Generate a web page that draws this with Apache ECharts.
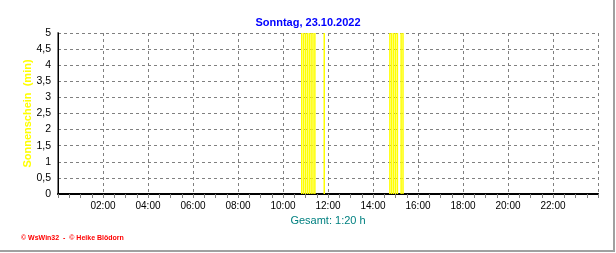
<!DOCTYPE html>
<html>
<head>
<meta charset="utf-8">
<script src="https://cdn.jsdelivr.net/npm/echarts@6/dist/echarts.min.js"></script>
<style>
html,body{margin:0;padding:0;background:#fff;}
#c{position:absolute;left:0;top:0;width:616px;height:253px;}
#frame{position:absolute;left:0;top:0;width:615px;height:252px;box-sizing:border-box;border-right:2px solid #a0a0a0;border-bottom:2px solid #a0a0a0;pointer-events:none;}
</style>
</head>
<body>
<div id="c"></div>
<div id="frame"></div>
<script>
// Data (5-minute intervals, minutes of sunshine)
const sunTimes = ['10:50','10:55','11:00','11:05','11:10','11:15','11:20','11:25','11:50',
                  '14:45','14:50','14:55','15:00','15:05','15:15','15:20'];
const sunValues = [5,5,5,5,5,5,5,5,5, 5,5,5,5,5,5,5];
const yTickLabels = ['0','0,5','1','1,5','2','2,5','3','3,5','4','4,5','5'];
const xTickLabels = ['00:00','02:00','04:00','06:00','08:00','10:00','12:00','14:00','16:00','18:00','20:00','22:00','24:00'];
const titleText = 'Sonntag, 23.10.2022';
const totalText = 'Gesamt: 1:20 h';
const yName = 'Sonnenschein  (min)';
const footerText = '© WsWin32  -  © Heike Blödorn';

function toHours(t){const p=t.split(':');return +p[0]+(+p[1])/60;}
const barData = sunTimes.map((t,i)=>[toHours(t), sunValues[i]]);

const chart = echarts.init(document.getElementById('c'), null, {renderer:'canvas'});
const font = 'Arial, "Liberation Sans", sans-serif';
chart.setOption({
  animation:false,
  backgroundColor:'#fff',
  title:{text:titleText,left:'center',top:12,textStyle:{color:'#0000ff',fontSize:11,fontWeight:'bold',fontFamily:font}},
  grid:{left:58,right:18,top:33,bottom:59},
  graphic:[{type:'text',left:21,top:235,style:{text:footerText,fill:'#ff0000',font:'bold 7px '+font}}],
  xAxis:[{
    type:'value',min:0,max:24,interval:2,position:'bottom',
    name:totalText,nameLocation:'middle',nameGap:21,nameMoveOverlap:false,
    nameTextStyle:{color:'#008080',fontSize:11,fontFamily:font},
    axisLine:{show:true,lineStyle:{color:'#808080',width:2}},
    axisTick:{show:true,length:4,lineStyle:{color:'#808080',width:1}},
    minorTick:{show:true,splitNumber:4,length:4,lineStyle:{color:'#808080',width:1}},
    splitLine:{show:true,lineStyle:{color:'#808080',type:[3,3],width:1}},
    axisLabel:{showMinLabel:false,showMaxLabel:false,margin:7,color:'#000',fontSize:10,fontFamily:font,
      formatter:(v)=>xTickLabels[Math.round(v/2)]}
  },{
    type:'value',min:0,max:24,interval:2,position:'top',
    axisLine:{show:true,lineStyle:{color:'#000',width:2}},
    axisTick:{show:true,inside:true,length:3,lineStyle:{color:'#808080'}},
    axisLabel:{show:false},splitLine:{show:false}
  }],
  yAxis:[{
    type:'value',min:0,max:5,interval:0.5,position:'left',
    name:yName,nameLocation:'middle',nameGap:25,nameRotate:90,nameMoveOverlap:false,
    nameTextStyle:{color:'#ffff00',fontSize:11,fontWeight:'bold',fontFamily:font},
    axisLine:{show:true,lineStyle:{color:'#808080',width:2}},
    axisTick:{show:false},
    splitLine:{show:true,lineStyle:{color:'#808080',type:[3,3],width:1}},
    axisLabel:{margin:7,color:'#000',fontSize:10.5,fontFamily:font,
      formatter:(v)=>yTickLabels[Math.round(v*2)]}
  },{
    type:'value',min:0,max:5,interval:0.5,position:'right',
    axisLine:{show:true,lineStyle:{color:'#000',width:1}},
    axisTick:{show:false},axisLabel:{show:false},splitLine:{show:false}
  }],
  series:[{
    type:'bar',xAxisIndex:0,yAxisIndex:0,data:barData,barWidth:1.5,
    itemStyle:{color:'#ffff00'},silent:true
  }]
});
</script>
</body>
</html>
